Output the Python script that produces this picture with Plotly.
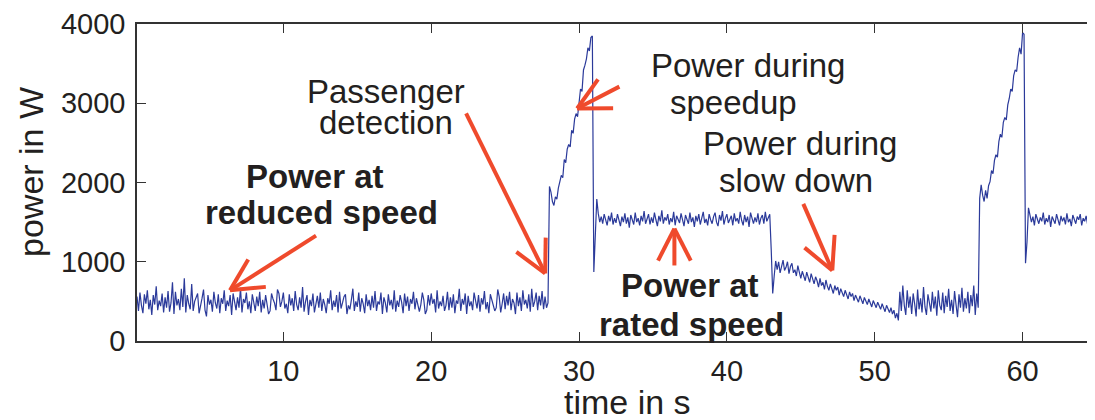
import math
import plotly.graph_objects as go

# sampling step of the recorded signal (s)
DT = 0.1

# power in W, one list per phase of the ride
reduced_1 = [
    420, 560, 380, 610, 450, 350, 590, 470, 640, 400,
    520, 330, 580, 460, 690, 390, 510, 440, 600, 360,
    550, 420, 630, 370, 480, 740, 340, 620, 450, 530,
    390, 660, 430, 790, 360, 580, 470, 400, 720, 380,
    500, 560, 600, 350, 430, 540, 650, 390, 310, 580,
    460, 520, 370, 620, 480, 410, 590, 350, 540, 470,
    640, 380, 510, 440, 580, 330, 600, 460, 390, 550,
    420, 670, 360, 530, 480, 610, 400, 500, 350, 590,
    470, 380, 560, 440, 620, 360, 520, 410, 580, 450,
    340, 380, 600, 530, 480, 390, 650, 600, 430, 500,
    610, 410, 470, 350, 590, 450, 540, 380, 630, 460,
    390, 550, 420, 680, 370, 500, 580, 330, 520, 440,
    600, 360, 490, 570, 420, 610, 380, 530, 460, 350,
    540, 470, 640, 390, 510, 430, 580, 360, 620, 410,
    480, 560, 590, 340, 450, 400, 520, 660, 380, 500,
    430, 610, 370, 540, 470, 350, 590, 440, 520, 390,
    570, 420, 630, 380, 500, 460, 610, 340, 550, 480,
    360, 590, 450, 520, 400, 640, 370, 510, 430, 580,
    490, 350, 600, 440, 560, 380, 530, 470, 620, 400,
    540, 430, 370, 460, 610, 520, 340, 390, 580, 450,
    600, 470, 530, 360, 640, 410, 500, 440, 570, 380,
    450, 620, 390, 550, 420, 590, 350, 510, 470, 660,
    380, 530, 460, 600, 340, 570, 440, 500, 390, 610,
    520, 410, 580, 370, 540, 460, 630, 400, 490, 350,
    590, 510, 440, 380, 420, 650, 560, 360, 470, 600,
    400, 570, 450, 620, 390, 530, 480, 340, 610, 440,
    550, 380, 640, 460, 520, 410, 590, 370, 660, 430,
    500, 610, 390, 570, 450, 630, 400, 560, 420, 480,
]
speedup_1 = [
    1950, 1880, 1760, 1710, 1820, 1790, 1930, 2010, 2090, 2060,
    2290, 2250, 2420, 2480, 2450, 2660, 2620, 2800, 2870, 2830,
    3000, 3180, 3150, 3420, 3480, 3560, 3700, 3660, 3830, 3850,
]
rated_1 = [
    870, 1350, 1790, 1610, 1500, 1570, 1480, 1600, 1520, 1460,
    1580, 1510, 1620, 1470, 1550, 1490, 1600, 1530, 1450, 1570,
    1500, 1610, 1480, 1560, 1430, 1590, 1520, 1470, 1620, 1500,
    1550, 1460, 1580, 1510, 1640, 1480, 1540, 1600, 1470, 1560,
    1490, 1620, 1530, 1450, 1580, 1510, 1650, 1480, 1560, 1520,
    1600, 1470, 1550, 1500, 1630, 1460, 1580, 1530, 1490, 1610,
    1520, 1450, 1590, 1540, 1480, 1620, 1500, 1560, 1440, 1580,
    1510, 1600, 1470, 1550, 1630, 1490, 1540, 1460, 1600, 1530,
    1480, 1570, 1620, 1500, 1450, 1590, 1520, 1640, 1470, 1550,
    1600, 1490, 1530, 1580, 1460, 1610, 1510, 1550, 1480, 1630,
    1520, 1460, 1590, 1500, 1570, 1440, 1620, 1530, 1480, 1560,
    1500, 1610, 1470, 1550, 1590, 1480, 1630, 1510, 1560, 1600,
]
slowdown = [
    1150, 600, 820, 1010, 900, 1000, 860, 960, 1020, 890,
    930, 1000, 850, 940, 980, 860, 900, 820, 950, 870,
    790, 880, 830, 760, 870, 800, 740, 850, 780, 720,
    810, 760, 680, 790, 700, 740, 650, 770, 690, 640,
    720, 660, 600, 700, 640, 680, 580, 660, 620, 560,
    640, 590, 530, 620, 560, 600, 510, 580, 540, 490,
    570, 520, 470, 550, 500, 460, 530, 480, 430, 510,
    460, 420, 490, 440, 400, 470, 420, 370, 450, 390,
    360, 420, 340, 390, 290, 350, 260,
]
reduced_2 = [
    620, 380, 700, 450, 330, 640, 420, 560, 340, 600,
    470, 310, 650, 400, 540, 360, 680, 430, 330, 590,
    480, 370, 620, 410, 560, 320, 640, 450, 390, 610,
    350, 570, 430, 660, 380, 520, 340, 630, 460, 300,
    590, 420, 670, 370, 540, 410, 620, 350, 580, 440,
    700, 330, 600, 420,
]
speedup_2 = [
    1800, 1970, 1840, 1760, 1900, 1800, 1960, 2010, 2150, 2110,
    2280, 2350, 2320, 2520, 2610, 2570, 2760, 2820, 2790, 2980,
    3060, 3180, 3150, 3350, 3420, 3400, 3580, 3700, 3620, 3890,
    3870,
]
rated_2 = [
    980, 1250, 1680, 1590, 1500, 1570, 1460, 1600, 1530, 1480,
    1560, 1510, 1620, 1470, 1550, 1500, 1590, 1440, 1570, 1520,
    1480, 1600, 1530, 1460, 1580, 1510, 1560, 1470, 1610, 1500,
    1540, 1450, 1590, 1520, 1480, 1570, 1530, 1600, 1460, 1550,
    1510, 1580, 1470, 1540, 1600, 1490, 1560, 1520, 1480,
]

# start time (s) of each phase
segments = [
    (0.0, reduced_1),
    (28.0, speedup_1),
    (31.0, rated_1),
    (43.0, slowdown),
    (51.7, reduced_2),
    (57.1, speedup_2),
    (60.2, rated_2),
]

time, power = [], []
for start, values in segments:
    for i, v in enumerate(values):
        time.append(round(start + i * DT, 2))
        power.append(v)

x_ticks = [10, 20, 30, 40, 50, 60]
y_ticks = [0, 1000, 2000, 3000, 4000]
X_RANGE = [0.1, 64.9]
Y_RANGE = [0, 4000]

LINE = "#2b3a9a"
RED = "#ef4a2c"
TXT = "#231f20"
FONT = "Liberation Sans, Arial, Helvetica, sans-serif"

# labels: (text, t, P, bold)
labels = [
    ("Power at", 12.15, 2075, True),
    ("reduced speed", 12.55, 1618, True),
    ("Passenger", 16.95, 3147, False),
    ("detection", 16.95, 2759, False),
    ("Power during", 41.44, 3473, False),
    ("speedup", 40.43, 3009, False),
    ("Power during", 44.96, 2495, False),
    ("slow down", 44.69, 2019, False),
    ("Power at", 37.52, 702, True),
    ("rated speed", 37.59, 213, True),
]
# arrows: (tip t, tip P, tail t, tail P)
arrows = [
    (6.39, 639, 12.21, 1329),
    (27.71, 853, 22.36, 2871),
    (29.87, 2934, 32.73, 3210),
    (36.45, 1417, 36.45, 953),
    (47.13, 890, 45.17, 1730),
]

W, H = 1087, 412
M = dict(l=129, r=0, t=14, b=79)
# pixels per data unit, used to give the open arrow heads a fixed look
sx = (W - M["l"] - M["r"]) / (X_RANGE[1] - X_RANGE[0])
sy = (H - M["t"] - M["b"]) / (Y_RANGE[1] - Y_RANGE[0])
HEAD_LEN = 36
HEAD_ANG = math.radians(27)

fig = go.Figure()
fig.add_trace(go.Scatter(x=time, y=power, mode="lines",
                         line=dict(color=LINE, width=1.2), showlegend=False))
# dummy trace so that the right-hand tick axis gets drawn
fig.add_trace(go.Scatter(x=[time[0]], y=[0], yaxis="y2", mode="markers",
                         marker=dict(opacity=0), showlegend=False, hoverinfo="skip"))

shapes = []
for tx, ty, ax, ay in arrows:
    arrow_line = dict(color=RED, width=4)
    shapes.append(dict(type="line", xref="x", yref="y", x0=ax, y0=ay, x1=tx, y1=ty,
                       line=arrow_line))
    dx, dy = (ax - tx) * sx, (ay - ty) * sy
    n = math.hypot(dx, dy)
    ux, uy = dx / n, dy / n
    for s in (1, -1):
        c, sn = math.cos(s * HEAD_ANG), math.sin(s * HEAD_ANG)
        rx, ry = ux * c - uy * sn, ux * sn + uy * c
        shapes.append(dict(type="line", xref="x", yref="y", x0=tx, y0=ty,
                           x1=tx + HEAD_LEN * rx / sx, y1=ty + HEAD_LEN * ry / sy,
                           line=arrow_line))

annotations = []
for text, t, p, bold in labels:
    annotations.append(dict(
        x=t, y=p, xref="x", yref="y", showarrow=False,
        text=f"<b>{text}</b>" if bold else text,
        font=dict(family=FONT, size=33, color=TXT),
        xanchor="center", yanchor="middle"))
annotations.append(dict(x=0.512, y=-0.194, xref="paper", yref="paper",
                        text="time in s", showarrow=False,
                        font=dict(family=FONT, size=34, color=TXT),
                        xanchor="center", yanchor="middle"))
annotations.append(dict(x=-0.1107, y=0.533, xref="paper", yref="paper",
                        text="power in W", showarrow=False, textangle=-90,
                        font=dict(family=FONT, size=34, color=TXT),
                        xanchor="center", yanchor="middle"))

# the page body has an 8 px margin, so the figure is drawn 8 px smaller
fig.update_layout(
    width=W, height=H,
    margin=M,
    paper_bgcolor="white", plot_bgcolor="white",
    font=dict(family=FONT, color=TXT),
    annotations=annotations,
    shapes=shapes,
    xaxis=dict(range=X_RANGE, tickvals=x_ticks, ticks="inside", ticklen=9,
               tickwidth=1.2, tickcolor="#333", showline=True, linecolor="#333",
               linewidth=1.5, mirror="ticks", showgrid=False, zeroline=False,
               tickfont=dict(size=29, color=TXT), ticklabelstandoff=3,
               ticklabeloverflow="allow"),
    yaxis=dict(range=Y_RANGE, tickvals=y_ticks, ticks="inside", ticklen=9,
               tickwidth=1.2, tickcolor="#333", showline=True, linecolor="#333",
               linewidth=1.5, showgrid=False, zeroline=False,
               tickfont=dict(size=29, color=TXT), ticklabelstandoff=4,
               ticklabeloverflow="allow"),
    yaxis2=dict(range=Y_RANGE, tickvals=y_ticks, overlaying="y", side="right",
                ticks="inside", ticklen=6, tickwidth=1.2, tickcolor="#333",
                showticklabels=False, showline=False, showgrid=False,
                zeroline=False),
)

fig.write_html("out.html")
